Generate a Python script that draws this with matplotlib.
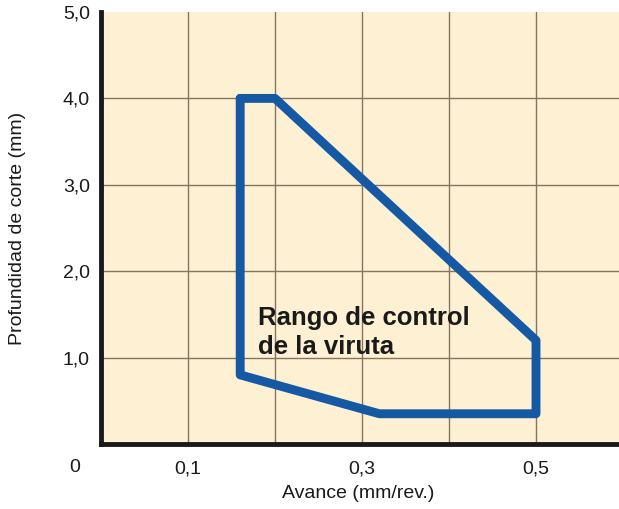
import matplotlib
matplotlib.use("Agg")
import matplotlib.pyplot as plt
import numpy as np

plt.rcParams['font.family'] = ['Liberation Sans', 'DejaVu Sans']

# Data: polygon vertices of the chip-control range
feed = [0.16, 0.20, 0.50, 0.50, 0.32, 0.16, 0.16]
depth = [4.0, 4.0, 1.2, 0.35, 0.35, 0.8, 4.0]
grid_x = [0.1, 0.2, 0.3, 0.4, 0.5]
grid_y = [1.0, 2.0, 3.0, 4.0]
xtick_vals = [0.1, 0.3, 0.5]
xtick_labels = ["0,1", "0,3", "0,5"]
ytick_vals = [1.0, 2.0, 3.0, 4.0, 5.0]
ytick_labels = ["1,0", "2,0", "3,0", "4,0", "5,0"]

W, H = 619, 509
fig = plt.figure(figsize=(W/100, H/100), dpi=100)
ax = fig.add_axes([101/W, (H-444)/H, (W-101)/W, (444-12)/H])
ax.set_facecolor('#fef1d3')
ax.set_xlim(0, (W-101)/870)
ax.set_ylim(0, 5.0)

for gx in grid_x:
    ax.axvline(gx, color='#857560', lw=1.0, zorder=1)
for gy in grid_y:
    ax.axhline(gy, color='#857560', lw=1.0, zorder=1)

ax.plot(feed, depth, color='#1559a5', lw=6.4, solid_joinstyle='round',
        solid_capstyle='round', zorder=3)

ax.text(0.181, 1.29, "Rango de control\nde la viruta", fontsize=18.5,
        fontweight='bold', color='#1a1a1a', va='center', ha='left',
        linespacing=1.3, zorder=4)

for s in ['top', 'right']:
    ax.spines[s].set_visible(False)
ax.spines['left'].set_linewidth(3.5)
ax.spines['bottom'].set_linewidth(3.5)
ax.spines['left'].set_color('#1a1a1a')
ax.spines['bottom'].set_color('#1a1a1a')

ax.set_xticks(xtick_vals)
ax.set_xticklabels(xtick_labels, fontsize=14)
ax.set_yticks(ytick_vals)
ax.set_yticklabels(ytick_labels, fontsize=14)
ax.tick_params(axis='y', length=0, pad=8, colors='#1a1a1a')
ax.tick_params(axis='x', length=0, pad=12, colors='#1a1a1a')

fig.text(75/W, 1-467/H, "0", fontsize=14, ha='center', va='center', color='#1a1a1a')
fig.text(358/W, 1-493/H, "Avance (mm/rev.)", fontsize=14, ha='center', va='center', color='#1a1a1a')
fig.text(18/W, 1-228/H, "Profundidad de corte (mm)", fontsize=14, ha='center', va='center',
         rotation=90, color='#1a1a1a')

fig.savefig("out.png", dpi=100)
